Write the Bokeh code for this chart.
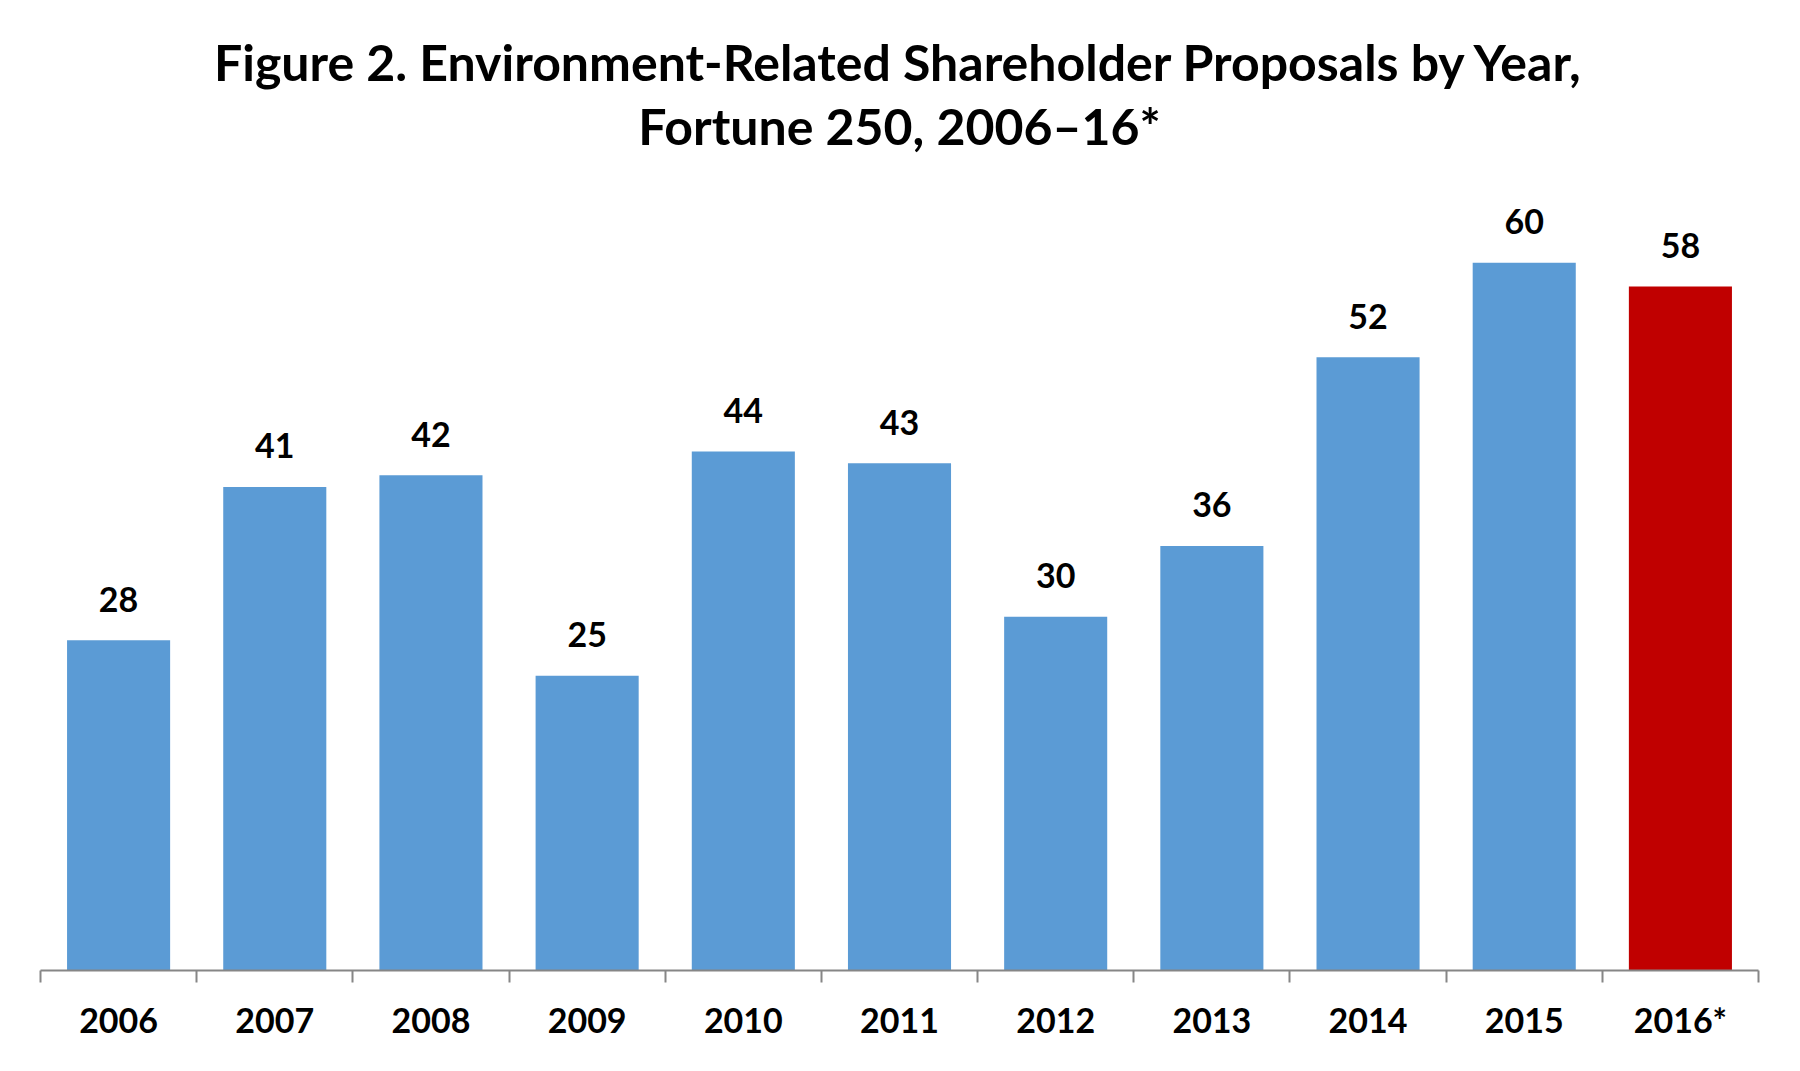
from bokeh.plotting import figure
from bokeh.models import ColumnDataSource, LabelSet, Title, FixedTicker, Range1d
from bokeh.core.properties import value
from bokeh.embed import file_html
from bokeh.resources import INLINE

years = ["2006", "2007", "2008", "2009", "2010", "2011", "2012", "2013", "2014", "2015", "2016*"]
proposals = [28, 41, 42, 25, 44, 43, 30, 36, 52, 60, 58]
bar_colors = ["#5B9BD5"] * 10 + ["#C00000"]
title_line1 = "Figure 2. Environment-Related Shareholder Proposals by Year,"
title_line2 = "Fortune 250, 2006\u201316*"

FONT = "Lato"
xs = list(range(len(years)))
src = ColumnDataSource(dict(x=xs, top=proposals, color=bar_colors,
                            label=[str(v) for v in proposals]))

p = figure(width=1784, height=1055, output_backend="svg", toolbar_location=None,
           x_range=Range1d(-0.5, len(years) - 0.5), y_range=Range1d(0, 69.1),
           y_axis_location=None, min_border_left=40, min_border_right=26,
           min_border_top=155, min_border_bottom=85)
p.outline_line_color = None
p.xgrid.visible = False
p.ygrid.visible = False
p.background_fill_color = "white"
p.border_fill_color = "white"

p.vbar(x="x", top="top", bottom=0, width=0.66, color="color", line_color=None, source=src)

labels = LabelSet(x="x", y="top", text="label", source=src, text_align="center",
                  text_baseline="middle", y_offset=41, text_font=value(FONT),
                  text_font_style="bold", text_font_size="34px", text_color="#000000")
p.add_layout(labels)

ax = p.xaxis[0]
ax.ticker = FixedTicker(ticks=xs, minor_ticks=[i - 0.5 for i in range(len(years) + 1)])
ax.major_label_overrides = {i: y for i, y in zip(xs, years)}
ax.major_tick_in = 0
ax.major_tick_out = 0
ax.minor_tick_in = 0
ax.minor_tick_out = 12
ax.minor_tick_line_color = "#868686"
ax.minor_tick_line_width = 2
ax.axis_line_color = "#868686"
ax.axis_line_width = 2
ax.major_label_standoff = 16
ax.major_label_text_font = FONT
ax.major_label_text_font_style = "bold"
ax.major_label_text_font_size = "34px"
ax.major_label_text_color = "#000000"

p.add_layout(Title(text=title_line2, align="center", text_font=FONT, text_font_style="bold",
                   text_font_size="50px", text_color="#000000", standoff=0), "above")
p.add_layout(Title(text=title_line1, align="center", text_font=FONT, text_font_style="bold",
                   text_font_size="50px", text_color="#000000", standoff=4), "above")

open("out.html", "w").write(file_html(p, INLINE))
